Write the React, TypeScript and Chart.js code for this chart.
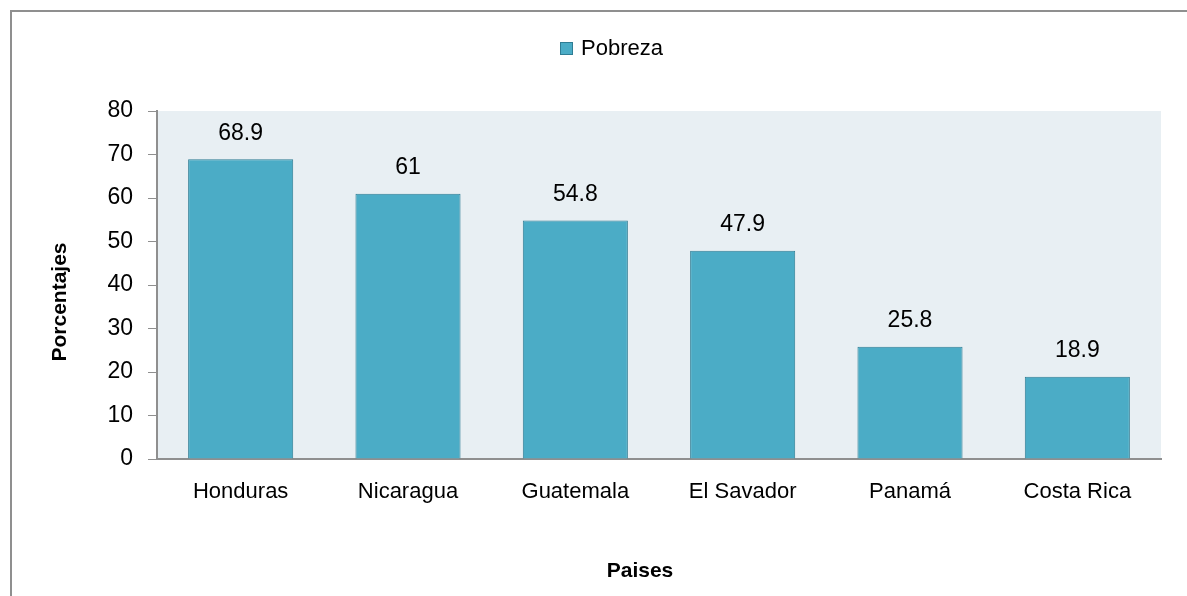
import React, { useEffect, useRef } from "react";
import { Chart, registerables } from "chart.js";

Chart.register(...registerables);

const categories = ["Honduras", "Nicaragua", "Guatemala", "El Savador", "Panamá", "Costa Rica"];
const pobreza = [68.9, 61, 54.8, 47.9, 25.8, 18.9];
const seriesLabel = "Pobreza";
const xTitle = "Paises";
const yTitle = "Porcentajes";
const yMin = 0;
const yMax = 80;
const yStep = 10;

const W = 1187;
const H = 596;
const FONT = "'Liberation Sans', Arial, sans-serif";
const BAR = "#4BACC6";
const BAR_BORDER = "#2F7D94";
const AXIS = "#8f8f8f";
const PLOT_BG = "#E8EFF3";

const bgPlugin = {
  id: "plotBg",
  beforeDraw(chart: any) {
    const { ctx, chartArea } = chart;
    ctx.save();
    ctx.fillStyle = PLOT_BG;
    ctx.fillRect(chartArea.left, chartArea.top, chartArea.right - chartArea.left, chartArea.bottom - chartArea.top);
    ctx.restore();
  },
};

const valueLabels = {
  id: "valueLabels",
  afterDatasetsDraw(chart: any) {
    const { ctx } = chart;
    const meta = chart.getDatasetMeta(0);
    const data = chart.data.datasets[0].data as number[];
    ctx.save();
    ctx.font = `23px ${FONT}`;
    ctx.fillStyle = "#000";
    ctx.textAlign = "center";
    ctx.textBaseline = "middle";
    meta.data.forEach((bar: any, i: number) => {
      ctx.fillText(String(data[i]), bar.x, bar.y - 26);
    });
    ctx.restore();
  },
};

const customLegendAndTitles = {
  id: "customLegendAndTitles",
  afterDraw(chart: any) {
    const { ctx } = chart;
    const ds = chart.data.datasets[0];
    ctx.save();
    ctx.fillStyle = ds.backgroundColor;
    ctx.strokeStyle = ds.borderColor;
    ctx.lineWidth = 1;
    ctx.fillRect(560, 42, 13, 13);
    ctx.strokeRect(560.5, 42.5, 12, 12);
    ctx.font = `22px ${FONT}`;
    ctx.fillStyle = "#000";
    ctx.textAlign = "left";
    ctx.textBaseline = "middle";
    ctx.fillText(ds.label, 581, 49);

    ctx.font = `bold 21px ${FONT}`;
    ctx.textAlign = "center";
    ctx.fillText(xTitle, 640, 571);

    ctx.translate(60, 302);
    ctx.rotate(-Math.PI / 2);
    ctx.fillText(yTitle, 0, 0);
    ctx.restore();
  },
};

export default function App() {
  const ref = useRef<HTMLCanvasElement | null>(null);

  useEffect(() => {
    if (!ref.current) return;
    const chart = new Chart(ref.current, {
      type: "bar",
      data: {
        labels: categories,
        datasets: [
          {
            label: seriesLabel,
            data: pobreza,
            backgroundColor: BAR,
            borderColor: BAR_BORDER,
            borderWidth: 1,
            barPercentage: 0.628,
            categoryPercentage: 1,
          },
        ],
      },
      options: {
        responsive: false,
        animation: false,
        devicePixelRatio: 1,
        layout: { padding: { left: 0, right: 26, top: 111, bottom: 0 } },
        plugins: {
          legend: { display: false },
          tooltip: { enabled: false },
        },
        scales: {
          x: {
            grid: { display: false, drawTicks: false },
            border: { display: true, color: AXIS, width: 2 },
            ticks: {
              color: "#000",
              font: { family: FONT, size: 22 },
              padding: 20,
              maxRotation: 0,
            },
            afterFit(scale: any) {
              scale.height = 137;
            },
          },
          y: {
            min: yMin,
            max: yMax,
            grid: {
              drawOnChartArea: false,
              drawTicks: true,
              tickLength: 9,
              color: AXIS,
              lineWidth: 1,
            },
            border: { display: true, color: AXIS, width: 2 },
            ticks: {
              stepSize: yStep,
              color: "#000",
              font: { family: FONT, size: 23 },
              padding: 15,
            },
            afterFit(scale: any) {
              scale.width = 157;
            },
          },
        },
      },
      plugins: [bgPlugin, valueLabels, customLegendAndTitles],
    });
    return () => chart.destroy();
  }, []);

  return (
    <div style={{ position: "fixed", left: 0, top: 0, width: W, height: H, background: "#fff", overflow: "hidden" }}>
      <div
        style={{
          position: "absolute",
          left: 10,
          top: 10,
          width: W + 50,
          height: H + 50,
          borderLeft: `2px solid ${AXIS}`,
          borderTop: `2px solid ${AXIS}`,
        }}
      />
      <canvas ref={ref} width={W} height={H} style={{ position: "absolute", left: 0, top: 0 }} />
    </div>
  );
}
